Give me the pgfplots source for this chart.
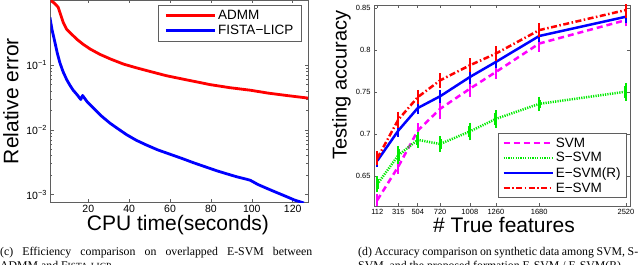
\documentclass[border=0pt]{standalone}
\usepackage{pgfplots}
\pgfplotsset{compat=1.18}
\usepackage{fontspec}
\setmainfont{Liberation Sans}
\newfontfamily\capfont{Liberation Serif}
\definecolor{axgray}{RGB}{95,95,95}
\definecolor{mred}{RGB}{255,0,0}
\definecolor{mblue}{RGB}{0,0,255}
\definecolor{mmag}{RGB}{255,0,255}
\definecolor{mgreen}{RGB}{0,235,0}
\pgfplotsset{
  mstyle/.style={
    scale only axis,
    axis line style={axgray, line width=0.7pt},
    every tick/.style={axgray, line width=0.6pt},
    major tick length=3pt, minor tick length=1.8pt,
    tick align=inside,
    /pgf/number format/assume math mode=true,
    legend cell align=left,
    legend image code/.code={\draw[##1] (0pt,0pt) -- (49pt,0pt);},
  },
}
\begin{document}
\begin{tikzpicture}[x=1pt,y=1pt]
\path (0pt,0pt) rectangle (640pt,265pt);

% ---------------- left: relative error ----------------
\begin{axis}[mstyle,
  at={(50.5pt,63pt)}, anchor=south west, width=257.5pt, height=201.5pt,
  ymode=log, xmin=1.5, xmax=127.5, ymin=7.67e-4, ymax=1,
  xtick={20,40,60,80,100,120},
  ytick={1e-3,1e-2,1e-1},
  yticklabels={10\textsuperscript{−3},10\textsuperscript{−2},10\textsuperscript{−1}},
  tick label style={font=\fontsize{10.5}{12}\selectfont},
  legend style={at={(0.9755,0.978)}, anchor=north east, draw=axgray, line width=0.6pt,
    font=\fontsize{13.5}{15}\selectfont, inner xsep=6pt, inner ysep=3pt,
    nodes={inner sep=2pt}},
]
\addplot[mred, line width=2.8pt, line join=round] coordinates {
(1.5,1.0) (3,0.93) (4.5,0.84) (5.3,0.78) (6.5,0.6) (7.7,0.46) (9.4,0.36) (11.9,0.30)
(14.5,0.25) (17.5,0.21) (21,0.177) (25.7,0.147) (31,0.124) (37.2,0.104) (43,0.092)
(50.2,0.080) (58,0.069) (64,0.063) (72,0.056) (79.7,0.050) (89,0.045) (99.3,0.041)
(108,0.037) (117,0.034) (127.5,0.031)};
\addlegendentry{ADMM}
\addplot[mblue, line width=2.8pt, line join=round] coordinates {
(1.2,0.55) (2.2,0.36) (3.7,0.223) (4.9,0.15) (6.1,0.109) (7.6,0.08) (9.4,0.060)
(11,0.049) (12.6,0.041) (14.5,0.035) (16.3,0.0295) (17.2,0.034) (19.5,0.027)
(22.5,0.0217) (26,0.0168) (30.6,0.0127) (34.5,0.0104) (38.8,0.0084) (43.5,0.0069)
(48.6,0.0058) (54,0.0049) (60,0.0042) (66,0.0036) (71.5,0.0031) (77,0.0027)
(82.9,0.00233) (88,0.00208) (92.7,0.00188) (97,0.00174) (99.3,0.00166) (103,0.00143)
(107.5,0.00124) (112,0.00108) (117.3,0.00092) (121,0.00082) (125.5,0.00074)};
\addlegendentry{FISTA−LICP}
\end{axis}

% ---------------- right: testing accuracy ----------------
\begin{axis}[mstyle,
  at={(374pt,59pt)}, anchor=south west, width=256pt, height=201pt,
  xmin=80, xmax=2559, ymin=0.614, ymax=0.854,
  xtick={112,315,504,720,1008,1260,1680,2520},
  xticklabels={112,315,504,720,1008,1260,1680,2520},
  ytick={0.65,0.7,0.75,0.8,0.85},
  yticklabels={0.65,0.7,0.75,0.8,0.85},
  tick label style={font=\fontsize{7.5}{9}\selectfont},
  legend style={at={(0.988,0.04)}, anchor=south east, draw=axgray, line width=0.6pt,
    font=\fontsize{13.5}{15}\selectfont, inner xsep=4pt, inner ysep=2pt,
    nodes={inner sep=2pt}},
]
\addplot[mmag, line width=2.5pt, dash pattern=on 6pt off 4pt,
  error bars/.cd, y dir=both, y explicit,
  error bar style={solid, line width=2pt},
  error mark options={solid, line width=2pt, mark size=3pt}]
coordinates {
(112,0.621) +- (0,0.004)
(315,0.661) +- (0,0.005)
(504,0.704) +- (0,0.005)
(720,0.730) +- (0,0.009)
(1008,0.754) +- (0,0.006)
(1260,0.774) +- (0,0.005)
(1680,0.808) +- (0,0.006)
(2520,0.836) +- (0,0.004)};
\addlegendentry{SVM}
\addplot[mgreen, line width=2.5pt, dash pattern=on 1.2pt off 1.2pt,
  error bars/.cd, y dir=both, y explicit,
  error bar style={solid, line width=3pt},
  error mark options={solid, line width=2pt, mark size=3pt}]
coordinates {
(112,0.640) +- (0,0.006)
(315,0.6745) +- (0,0.007)
(504,0.693) +- (0,0.006)
(720,0.688) +- (0,0.006)
(1008,0.703) +- (0,0.007)
(1260,0.718) +- (0,0.007)
(1680,0.736) +- (0,0.005)
(2520,0.7505) +- (0,0.007)};
\addlegendentry{S−SVM}
\addplot[mblue, line width=2.5pt,
  error bars/.cd, y dir=both, y explicit,
  error bar style={solid, line width=2pt},
  error mark options={solid, line width=2pt, mark size=3pt}]
coordinates {
(112,0.668) +- (0,0.004)
(315,0.704) +- (0,0.004)
(504,0.731) +- (0,0.004)
(720,0.745) +- (0,0.004)
(1008,0.768) +- (0,0.005)
(1260,0.786) +- (0,0.004)
(1680,0.817) +- (0,0.004)
(2520,0.840) +- (0,0.004)};
\addlegendentry{E−SVM(R)}
\addplot[mred, line width=2.5pt, dash pattern=on 6pt off 2.5pt on 1.5pt off 2.5pt,
  error bars/.cd, y dir=both, y explicit,
  error bar style={solid, line width=2pt},
  error mark options={solid, line width=2pt, mark size=3pt}]
coordinates {
(112,0.671) +- (0,0.005)
(315,0.717) +- (0,0.006)
(504,0.744) +- (0,0.005)
(720,0.764) +- (0,0.005)
(1008,0.782) +- (0,0.005)
(1260,0.796) +- (0,0.005)
(1680,0.824) +- (0,0.005)
(2520,0.848) +- (0,0.006)};
\addlegendentry{E−SVM}
\end{axis}

% ---------------- axis labels ----------------
\node[rotate=90, anchor=base, inner sep=0, font=\fontsize{21}{24}\selectfont] at (18.3pt,164pt) {Relative error};
\node[anchor=base, inner sep=0, font=\fontsize{21}{24}\selectfont] at (178pt,34pt) {CPU time(seconds)};
\node[rotate=90, anchor=base, inner sep=0, font=\fontsize{20}{24}\selectfont] at (346.7pt,180pt) {Testing accuracy};
\node[anchor=base, inner sep=0, font=\fontsize{21}{24}\selectfont] at (504pt,32.5pt) {\# True features};

% ---------------- captions ----------------
\node[anchor=base west, inner sep=0, font=\capfont\fontsize{11.8}{14}\selectfont] at (0pt,9.3pt)
  {\makebox[312pt][s]{(c) Efficiency comparison on overlapped E-SVM between}};
\node[anchor=base west, inner sep=0, font=\capfont\fontsize{11.8}{14}\selectfont] at (358pt,9.3pt)
  {\makebox[280pt][s]{(d) Accuracy comparison on synthetic data among SVM, S-}};
\begin{scope}
\clip (0pt,0pt) rectangle (640pt,20pt);
\node[overlay, anchor=base west, inner sep=0, font=\capfont\fontsize{11.8}{14}\selectfont] at (0pt,-5pt)
  {ADMM and F{\fontsize{9.4}{11}\selectfont ISTA-LICP}};
\node[overlay, anchor=base west, inner sep=0, font=\capfont\fontsize{11.8}{14}\selectfont] at (358pt,-5pt)
  {SVM, and the proposed formation E-SVM / E-SVM(R).};
\end{scope}
\end{tikzpicture}
\end{document}
